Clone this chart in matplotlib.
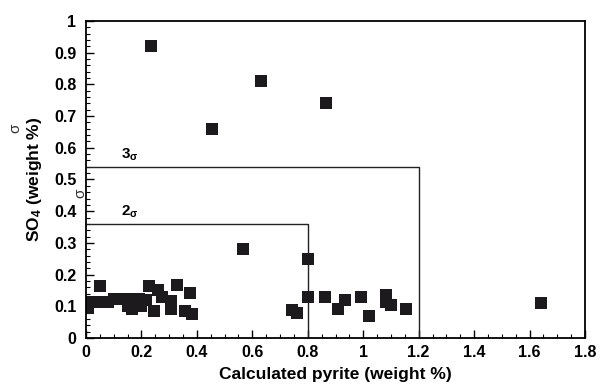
import matplotlib
matplotlib.use("Agg")
import matplotlib.pyplot as plt
from matplotlib.ticker import MultipleLocator, FixedLocator

plt.rcParams['font.family'] = ['Liberation Sans', 'DejaVu Sans']
plt.rcParams['mathtext.fontset'] = 'custom'
plt.rcParams['mathtext.rm'] = 'Liberation Sans:bold'
plt.rcParams['mathtext.it'] = 'Liberation Sans:bold'
plt.rcParams['mathtext.bf'] = 'Liberation Sans:bold'

# Data (calculated pyrite wt %, SO4 wt %)
pyrite = [0.235, 0.455, 0.632, 0.866, 0.567, 0.80, 1.643,
          0.80, 0.863, 0.935, 0.91, 0.993, 1.02, 1.083, 1.083, 1.10, 1.155, 0.744, 0.762,
          0.049, 0.227, 0.33, 0.375, 0.245, 0.357, 0.383, 0.26, 0.307, 0.307, 0.217, 0.274,
          0.007, 0.02, 0.04, 0.06, 0.08, 0.10, 0.13, 0.15, 0.166, 0.19, 0.20, 0.15]
so4 = [0.92, 0.66, 0.81, 0.74, 0.28, 0.25, 0.11,
       0.13, 0.13, 0.12, 0.09, 0.13, 0.07, 0.136, 0.114, 0.104, 0.091, 0.088, 0.078,
       0.164, 0.164, 0.167, 0.143, 0.085, 0.085, 0.076, 0.151, 0.117, 0.092, 0.12, 0.13,
       0.095, 0.114, 0.114, 0.114, 0.114, 0.123, 0.123, 0.123, 0.092, 0.123, 0.10, 0.10]

sigma3 = 0.54
sigma3_x = 1.2
sigma2 = 0.36
sigma2_x = 0.8

xticks = [0, 0.2, 0.4, 0.6, 0.8, 1.0, 1.2, 1.4, 1.6, 1.8]
xticklabels = ['0', '0.2', '0.4', '0.6', '0.8', '1', '1.2', '1.4', '1.6', '1.8']
yticks = [0, 0.1, 0.2, 0.3, 0.4, 0.5, 0.6, 0.7, 0.8, 0.9, 1.0]
yticklabels = ['0', '0.1', '0.2', '0.3', '0.4', '0.5', '0.6', '0.7', '0.8', '0.9', '1']

fig = plt.figure(figsize=(6.07, 3.85), dpi=100)
ax = fig.add_axes([86/607, 1-338/385, (585-86)/607, (338-21)/385])

ax.plot([0, sigma3_x, sigma3_x], [sigma3, sigma3, 0], color='#222222', lw=1.0)
ax.plot([0, sigma2_x, sigma2_x], [sigma2, sigma2, 0], color='#222222', lw=1.0)

ax.plot(pyrite, so4, linestyle='none', marker='s', markersize=8.6,
        color='#1c1a1c', markeredgewidth=0)

ax.text(0.125, sigma3 + 0.013, r'3$_\sigma$', fontsize=11, fontweight='bold', va='bottom')
ax.text(0.125, sigma2 + 0.013, r'2$_\sigma$', fontsize=11, fontweight='bold', va='bottom')

ax.set_xlim(0, 1.8)
ax.set_ylim(0, 1)
ax.xaxis.set_major_locator(FixedLocator(xticks))
ax.set_xticklabels(xticklabels)
ax.yaxis.set_major_locator(FixedLocator(yticks))
ax.set_yticklabels(yticklabels)
ax.xaxis.set_minor_locator(MultipleLocator(0.05))
ax.yaxis.set_minor_locator(MultipleLocator(0.02))
ax.tick_params(which='both', direction='in', top=False, right=False)
ax.tick_params(which='major', length=6, width=1, labelsize=11.5)
ax.tick_params(axis='y', which='major', pad=7)
ax.tick_params(axis='x', which='major', pad=5)
ax.tick_params(which='minor', length=3, width=0.8)
for lab in ax.get_xticklabels() + ax.get_yticklabels():
    lab.set_fontweight('bold')
for s in ax.spines.values():
    s.set_linewidth(1.3)

ax.set_xlabel('Calculated pyrite (weight %)', fontsize=12.5, fontweight='bold', labelpad=5)
ax.set_ylabel(r'SO$_4$ (weight %)', fontsize=12.5, fontweight='bold', labelpad=7)

fig.text(15/607, 1-128/385, 'σ', rotation=90, fontsize=11, ha='center', va='center', color='#333333')
fig.text(80/607, 1-193/385, 'σ', rotation=90, fontsize=11, ha='center', va='center', color='#333333')

fig.savefig('out.png', dpi=100)
